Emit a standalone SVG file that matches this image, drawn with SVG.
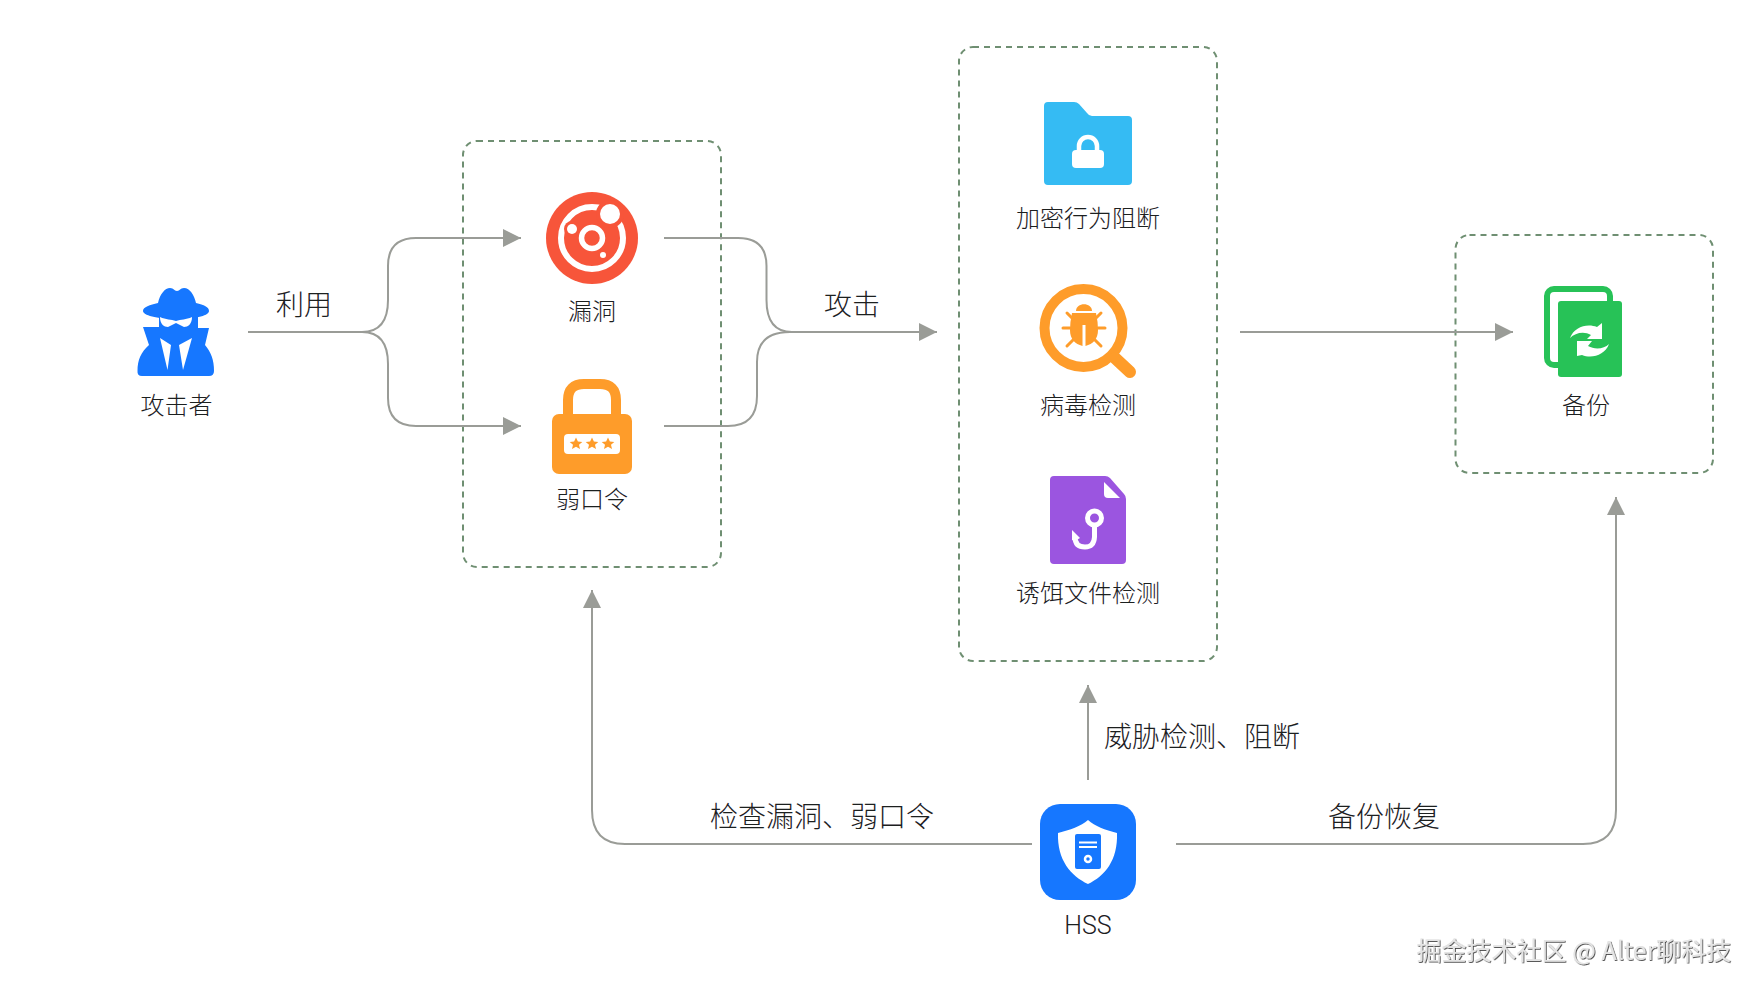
<svg xmlns="http://www.w3.org/2000/svg" width="1760" height="992" viewBox="0 0 1760 992">
<style>
text{font-family:"Noto Sans CJK SC","Liberation Sans",sans-serif;font-weight:300;fill:#1c201f;text-anchor:middle}
.l{font-size:24px}.c{font-size:28px}
.hss{font-family:Roboto,"Liberation Sans",sans-serif;font-weight:300;font-size:25px}
.box{fill:none;stroke:#6f8f72;stroke-width:2;stroke-dasharray:6 5}
.e{fill:none;stroke:#9a9c97;stroke-width:2}
.w{fill:#fff}
.wm{font-size:25px;font-weight:400;fill:#e4e4e4;filter:url(#emb)}
</style>
<defs>
<marker id="a" markerUnits="userSpaceOnUse" markerWidth="18" markerHeight="18" refX="18" refY="9" orient="auto"><path d="M0 0L18 9L0 18Z" fill="#9a9c97"/></marker>
<filter id="emb" x="-5%" y="-20%" width="110%" height="140%"><feDropShadow dx="0.8" dy="0.8" stdDeviation="0.3" flood-color="#333"/></filter>
</defs>
<rect width="1760" height="992" fill="#fff"/>
<g id="groups">
<rect class="box" x="463" y="141" width="258" height="426" rx="14"/>
<rect class="box" x="959" y="47" width="258" height="614" rx="14"/>
<rect class="box" x="1455.500" y="235" width="257.500" height="238" rx="14"/>
</g>
<g id="connectors">
<path class="e" marker-end="url(#a)" d="M248 332H362Q388 332 388 300V266Q388 238 416 238H521"/>
<path class="e" marker-end="url(#a)" d="M362 332Q388 332 388 364V398Q388 426 416 426H521"/>
<path class="e" d="M664 238H738Q766.500 238 766.500 266V300Q766.500 332 792 332"/>
<path class="e" marker-end="url(#a)" d="M664 426H728Q757 426 757 396V362Q757 332 790 332H937"/>
<path class="e" marker-end="url(#a)" d="M1240 332H1513"/>
<path class="e" marker-end="url(#a)" d="M1088 780V685"/>
<path class="e" marker-end="url(#a)" d="M1032 844H625Q592 844 592 810V590"/>
<path class="e" marker-end="url(#a)" d="M1176 844H1583Q1616 844 1616 810V497"/>
</g>
<g id="attacker">
<path fill="#1677ff" d="M158 303C160 294 165 288 170 288C174 288 174 291 177 291C180 291 180 288 184 288C190 288 194 295 196 303C204 305 209 307 209 311C209 315 198 319 177 319C156 319 143 315 143 311C143 307 150 305 158 303Z"/>
<path fill="#1677ff" d="M159 316H198V328H209L205 345C211 352 214 360 214 371Q214 376 209 376H142Q137 376 137.500 371C137.500 360 141 352 149 345L143 327H159Z"/>
<path class="w" d="M160 317C166 320 171 319 176 321C181 319 186 320 192 317C192 324 188 327 184 327L176 323L168 327C164 327 160 324 160 317Z"/>
<path class="w" d="M160 338L171 345L167.500 370ZM192 338L179 345L183 370Z"/>
<text class="l" x="176.500" y="414">攻击者</text>
</g>
<g id="vuln">
<circle cx="592" cy="238" r="46" fill="#f7553a"/>
<circle cx="592" cy="238" r="31" fill="none" stroke="#fff" stroke-width="6"/>
<circle cx="610" cy="214" r="14" fill="#f7553a"/>
<circle cx="592" cy="238" r="10.500" fill="none" stroke="#fff" stroke-width="5.500"/>
<circle class="w" cx="610" cy="214" r="10"/>
<circle class="w" cx="572" cy="229" r="0"/>
<circle cx="572" cy="229" r="8" fill="#f7553a"/><circle class="w" cx="572" cy="229" r="5"/>
<circle cx="603" cy="255" r="5" fill="#f7553a"/><circle class="w" cx="603" cy="255" r="3"/>
<text class="l" x="592" y="320">漏洞</text>
</g>
<g id="password">
<path fill="none" stroke="#fe9c2a" stroke-width="10" d="M568 416V400Q568 384 584 384H600Q616 384 616 400V416"/>
<rect x="552" y="414" width="80" height="60" rx="7" fill="#fe9c2a"/>
<rect class="w" x="564" y="434" width="56" height="20" rx="4"/>
<g fill="#fe9c2a">
<path d="M576 437.500l1.900 4 4.400.4-3.300 2.900 1 4.300-4-2.300-4 2.300 1-4.300-3.300-2.900 4.400-.4z"/>
<path d="M592 437.500l1.900 4 4.400.4-3.300 2.900 1 4.300-4-2.300-4 2.300 1-4.300-3.300-2.900 4.400-.4z"/>
<path d="M608 437.500l1.900 4 4.400.4-3.300 2.900 1 4.300-4-2.300-4 2.300 1-4.300-3.300-2.900 4.400-.4z"/></g>
<text class="l" x="592" y="508">弱口令</text>
</g>
<g id="encrypt">
<path fill="#35bbf3" d="M1048 102H1074Q1077 102 1079 104L1087 113Q1089 116 1092 116H1128Q1132 116 1132 120V181Q1132 185 1128 185H1048Q1044 185 1044 181V106Q1044 102 1048 102Z"/>
<path fill="none" stroke="#fff" stroke-width="4.500" d="M1079 152V146A9 9 0 0 1 1097 146V152"/>
<rect class="w" x="1072" y="150" width="32" height="18" rx="4"/>
<text class="l" x="1088" y="227">加密行为阻断</text>
</g>
<g id="virus">
<circle cx="1083.500" cy="328" r="39" fill="none" stroke="#fe9c2a" stroke-width="10"/>
<path fill="none" stroke="#fe9c2a" stroke-width="12" stroke-linecap="round" d="M1115 358L1130 372"/>
<path fill="#fe9c2a" d="M1076 311C1076 302 1092 302 1092 311Z"/>
<path fill="#fe9c2a" d="M1072 313H1096Q1098 322 1098 330C1098 339 1093 344 1085.500 346V325H1082.500V346C1075 344 1070 339 1070 330Q1070 322 1072 313Z"/>
<path fill="none" stroke="#fe9c2a" stroke-width="3" stroke-linecap="round" d="M1067 313L1073 319M1101 313L1095 319M1063 328H1070M1105 328H1098M1067 346L1073 340M1101 346L1095 340"/>
<text class="l" x="1088" y="414">病毒检测</text>
</g>
<g id="bait">
<path fill="#9b55e0" d="M1054 476H1105Q1108 476 1110 478L1124 494Q1126 496 1126 499V560Q1126 564 1122 564H1054Q1050 564 1050 560V480Q1050 476 1054 476Z"/>
<path class="w" d="M1104 482L1120 498H1108Q1104 498 1104 494Z"/>
<circle cx="1094.500" cy="518" r="7" fill="none" stroke="#fff" stroke-width="5"/>
<path fill="none" stroke="#fff" stroke-width="5" d="M1094.500 525V537Q1094 547 1085 547Q1075 547 1075 537"/>
<path class="w" d="M1072 530L1080 538L1075 541L1072 540Z"/>
<text class="l" x="1088" y="602">诱饵文件检测</text>
</g>
<g id="backup">
<rect x="1547" y="289" width="63" height="76" rx="7" fill="none" stroke="#27c257" stroke-width="6"/>
<rect x="1558" y="301" width="64" height="76" rx="3" fill="#27c257"/>
<path class="w" d="M1570 338C1574 327 1587 323 1597 327L1602 323V339H1587L1591 335C1584 331 1575 333 1570 338Z"/>
<path class="w" d="M1609 344C1605 355 1592 359 1582 355L1577 356V341H1592L1588 346C1595 350 1604 349 1609 344Z"/>
<text class="l" x="1586" y="414">备份</text>
</g>
<g id="hss">
<rect x="1040" y="804" width="96" height="96" rx="20" fill="#1677ff"/>
<path class="w" d="M1088 820C1095 826 1105 830 1117 833C1118 860 1105 876 1088 884C1071 876 1057 860 1058 833C1070 830 1081 826 1088 820Z"/>
<rect x="1075" y="834" width="26" height="35" rx="2" fill="#1677ff"/>
<path stroke="#fff" stroke-width="2" d="M1079 842.500H1097M1079 847H1097"/>
<circle cx="1088" cy="859" r="3" fill="#1677ff" stroke="#fff" stroke-width="2.500"/>
<text class="hss" x="1088" y="934">HSS</text>
</g>
<g id="labels">
<text class="c" x="304" y="315">利用</text>
<text class="c" x="852" y="315">攻击</text>
<text class="c" x="1202" y="747">威胁检测、阻断</text>
<text class="c" x="822" y="827">检查漏洞、弱口令</text>
<text class="c" x="1384" y="827">备份恢复</text>
</g>
<text class="wm" x="1574" y="959.500">掘金技术社区 @ Alter聊科技</text>
</svg>
